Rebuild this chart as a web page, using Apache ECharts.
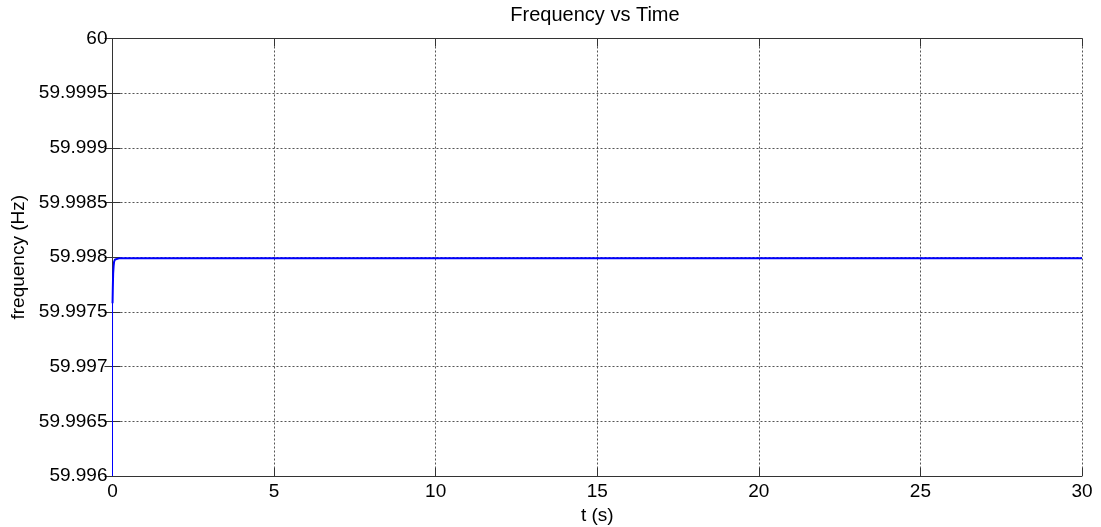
<!DOCTYPE html>
<html>
<head>
<meta charset="utf-8">
<script src="https://cdn.jsdelivr.net/npm/echarts@6/dist/echarts.min.js"></script>
<style>
  html, body { margin: 0; padding: 0; background: #fff; }
  #chart { width: 1101px; height: 527px; }
</style>
</head>
<body>
<div id="chart"></div>
<script>
// Initial step of the frequency trace right at t = 0 (drawn thin)
const stepTimeS = [0, 0.001];
const stepFreqHz = [59.996, 59.99758];

// Frequency recovery and settled value (time in seconds, frequency in Hz)
const timeS = [0.001, 0.004, 0.01, 0.02, 0.035, 0.05, 0.08, 0.12, 0.2, 0.5, 1, 2, 5, 10, 15, 20, 25, 30];
const freqHz = [59.99758, 59.99762, 59.99772, 59.99785, 59.99792, 59.99796, 59.99798, 59.99799, 59.99799, 59.99799, 59.99799, 59.99799, 59.99799, 59.99799, 59.99799, 59.99799, 59.99799, 59.99799];

const xTickLabels = ['0', '5', '10', '15', '20', '25', '30'];
const yTickLabels = ['59.996', '59.9965', '59.997', '59.9975', '59.998', '59.9985', '59.999', '59.9995', '60'];

const xMin = 0, xMax = 30, xStep = 5;
const yMin = 59.996, yMax = 60, yStep = 0.0005;

const FONT = '"Liberation Sans", Arial, sans-serif';
const frameColor = '#333';
const gridColor = '#555';

const xLabel = v => xTickLabels[Math.round((v - xMin) / xStep)] ?? '';
const yLabel = v => yTickLabels[Math.round((v - yMin) / yStep)] ?? '';

const chart = echarts.init(document.getElementById('chart'), null, { renderer: 'canvas' });

const baseX = {
  type: 'value', min: xMin, max: xMax, interval: xStep,
  axisLine: { show: true, lineStyle: { color: frameColor, width: 1 } },
  axisTick: { show: true, inside: true, length: 8, lineStyle: { color: frameColor } },
  splitLine: { show: false },
  axisLabel: { show: false }
};
const baseY = {
  type: 'value', min: yMin, max: yMax, interval: yStep, scale: true,
  axisLine: { show: true, lineStyle: { color: frameColor, width: 1 } },
  axisTick: { show: true, inside: true, length: 8, lineStyle: { color: frameColor } },
  splitLine: { show: false },
  axisLabel: { show: false }
};

chart.setOption({
  animation: false,
  backgroundColor: '#fff',
  title: {
    text: 'Frequency vs Time',
    left: 595, top: 5, textAlign: 'center', padding: 0,
    textStyle: { fontFamily: FONT, fontSize: 20, fontWeight: 'normal', color: '#000' }
  },
  grid: {
    left: 112.5, right: 19, top: 38.5, bottom: 51,
    containLabel: false, outerBoundsMode: 'none'
  },
  xAxis: [
    Object.assign({}, baseX, {
      position: 'bottom',
      name: 't (s)', nameLocation: 'middle', nameGap: 27,
      nameTextStyle: { fontFamily: FONT, fontSize: 19, color: '#000' },
      axisLabel: { show: true, formatter: xLabel, margin: 6, fontFamily: FONT, fontSize: 19, color: '#000' },
      splitLine: { show: true, lineStyle: { color: gridColor, type: [2, 2], width: 1 } }
    }),
    Object.assign({}, baseX, { position: 'top' })
  ],
  yAxis: [
    Object.assign({}, baseY, {
      position: 'left',
      name: 'frequency (Hz)', nameLocation: 'middle', nameGap: 83,
      nameTextStyle: { fontFamily: FONT, fontSize: 19, color: '#000' },
      axisLabel: { show: true, formatter: yLabel, margin: 5, fontFamily: FONT, fontSize: 19, color: '#000' },
      splitLine: { show: true, lineStyle: { color: gridColor, type: [2, 2], width: 1 } }
    }),
    Object.assign({}, baseY, { position: 'right' })
  ],
  series: [
    {
      type: 'line',
      xAxisIndex: 0, yAxisIndex: 0,
      data: stepTimeS.map((t, i) => [t, stepFreqHz[i]]),
      showSymbol: false,
      clip: true,
      lineStyle: { color: '#0000ff', width: 1 },
      z: 3
    },
    {
      type: 'line',
      xAxisIndex: 0, yAxisIndex: 0,
      data: timeS.map((t, i) => [t, freqHz[i]]),
      showSymbol: false,
      clip: true,
      lineStyle: { color: '#0000ff', width: 2 },
      z: 3
    }
  ]
});
</script>
</body>
</html>
